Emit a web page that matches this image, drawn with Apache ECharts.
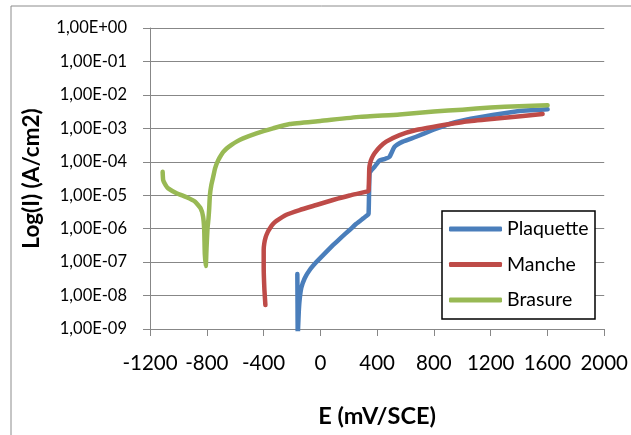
<!DOCTYPE html>
<html>
<head>
<meta charset="utf-8">
<script src="https://cdn.jsdelivr.net/npm/echarts@6/dist/echarts.min.js"></script>
<style>
html,body{margin:0;padding:0;background:#fff;}
#chart{width:631px;height:435px;}
</style>
</head>
<body>
<div id="chart"></div>
<script>
// ---- data (E in mV/SCE, I in A/cm2) ----
const seriesNames = ['Plaquette', 'Manche', 'Brasure'];

const plaquetteE = [-162, -161, -159, -156, -152, -146, -134, -110, -75, -28, 30, 89, 148, 206, 253, 300, 335, 340, 343, 347, 360, 382, 417, 450, 487, 523, 581, 675, 792, 909, 1027, 1214, 1378, 1601];
const plaquetteI = [4.4e-8, 1.0e-8, 6.3e-10, 6.3e-10, 3.2e-9, 7.4e-9, 1.7e-8, 3.3e-8, 5.8e-8, 1.0e-7, 1.8e-7, 3.2e-7, 5.5e-7, 9.1e-7, 1.4e-6, 2.0e-6, 2.6e-6, 2.8e-6, 1.0e-5, 4.5e-5, 5.6e-5, 7.1e-5, 1.1e-4, 1.2e-4, 1.4e-4, 2.8e-4, 4.0e-4, 5.6e-4, 8.9e-4, 1.35e-3, 1.8e-3, 2.5e-3, 3.2e-3, 3.7e-3];

const mancheE = [-387, -394, -399, -399, -395, -385, -370, -357, -335, -309, -239, -146, -28, 89, 206, 335, 340, 343, 345, 350, 362, 382, 420, 464, 558, 675, 792, 1027, 1261, 1566];
const mancheI = [5.2e-9, 1.5e-8, 7.2e-8, 2.3e-7, 3.6e-7, 5.6e-7, 8.0e-7, 1.0e-6, 1.35e-6, 1.7e-6, 2.6e-6, 3.6e-6, 5.1e-6, 7.2e-6, 9.8e-6, 1.3e-5, 1.4e-5, 3.2e-5, 6.3e-5, 8.9e-5, 1.26e-4, 1.8e-4, 2.8e-4, 4.0e-4, 6.3e-4, 8.9e-4, 1.1e-3, 1.6e-3, 2.0e-3, 2.7e-3];

const brasureE = [-1111, -1107, -1090, -1072, -1013, -942, -884, -844, -826, -818, -814, -807, -802, -795, -788, -783, -778, -768, -755, -741, -720, -700, -685, -660, -626, -590, -544, -450, -333, -216, 0, 276, 558, 800, 1000, 1200, 1400, 1601];
const brasureI = [5.0e-5, 2.8e-5, 2.0e-5, 1.6e-5, 1.15e-5, 8.7e-6, 6.5e-6, 4.1e-6, 2.3e-6, 9.1e-7, 1.8e-7, 7.6e-8, 2.5e-7, 1.0e-6, 2.0e-6, 4.0e-6, 1.0e-5, 2.0e-5, 3.5e-5, 6.5e-5, 1.1e-4, 1.55e-4, 1.95e-4, 2.5e-4, 3.2e-4, 4.0e-4, 5.0e-4, 7.1e-4, 1.0e-3, 1.35e-3, 1.66e-3, 2.2e-3, 2.6e-3, 3.2e-3, 3.6e-3, 4.2e-3, 4.6e-3, 4.9e-3];

const yTickLabels = ['1,00E-09', '1,00E-08', '1,00E-07', '1,00E-06', '1,00E-05', '1,00E-04', '1,00E-03', '1,00E-02', '1,00E-01', '1,00E+00'];
const xTickLabels = ['-1200', '-800', '-400', '0', '400', '800', '1200', '1600', '2000'];

const xTitle = 'E (mV/SCE)';
const yTitle = 'Log(I) (A/cm2)';

// ---- build ----
function pairs(xs, ys) { return xs.map((x, i) => [x, ys[i]]); }
const colors = ['#4A7EBB', '#BE4B48', '#98B954'];
const dataSets = [pairs(plaquetteE, plaquetteI), pairs(mancheE, mancheI), pairs(brasureE, brasureI)];
const gridColor = '#878787';
const font = 'Lato, "Open Sans", sans-serif';

const chart = echarts.init(document.getElementById('chart'), null, {renderer: 'canvas'});
chart.setOption({
  animation: false,
  backgroundColor: '#ffffff',
  color: colors,
  grid: {left: 150, top: 28, right: 26, bottom: 106, containLabel: false},
  xAxis: {
    type: 'value', min: -1200, max: 2000, interval: 400,
    axisLine: {show: true, onZero: false, lineStyle: {color: gridColor, width: 1}},
    axisTick: {show: true, length: 7, lineStyle: {color: gridColor}},
    splitLine: {show: false},
    axisLabel: {
      margin: 24, color: '#000', fontFamily: font, fontSize: 20.5,
      formatter: v => { const i = Math.round((v + 1200) / 400); return xTickLabels[i] !== undefined ? xTickLabels[i] : ''; }
    },
    name: xTitle, nameLocation: 'middle', nameGap: 75,
    nameTextStyle: {color: '#000', fontFamily: font, fontWeight: 'bold', fontSize: 23.5}
  },
  yAxis: {
    type: 'log', logBase: 10, min: 1e-9, max: 1, splitNumber: 9,
    axisLine: {show: true, onZero: false, lineStyle: {color: gridColor, width: 1}},
    axisTick: {show: true, length: 7, lineStyle: {color: gridColor}},
    splitLine: {show: true, lineStyle: {color: gridColor, width: 1}},
    minorTick: {show: false},
    axisLabel: {
      margin: 23, color: '#000', fontFamily: font, fontSize: 16.5,
      formatter: v => { const e = Math.round(Math.log10(v)); const s = yTickLabels[e + 9]; return s !== undefined ? s : ''; }
    },
    name: yTitle, nameLocation: 'middle', nameGap: 107, nameRotate: 90,
    nameTextStyle: {color: '#000', fontFamily: font, fontWeight: 'bold', fontSize: 22.5}
  },
  legend: {
    data: seriesNames,
    orient: 'vertical', left: 442, top: 211, z: 20,
    padding: [8, 5, 9, 7],
    itemWidth: 53, itemHeight: 5, itemGap: 15.5,
    icon: 'roundRect',
    textStyle: {color: '#000', fontFamily: font, fontSize: 19.5, lineHeight: 20}
  },
  graphic: [
    {type: 'rect', z: -10, silent: true, shape: {x: 11, y: 6, width: 800, height: 800}, style: {fill: 'none', stroke: '#8c8c8c', lineWidth: 1}},
    {type: 'rect', z: 15, silent: true, shape: {x: 442, y: 211, width: 153, height: 108}, style: {fill: '#fff', stroke: '#000', lineWidth: 1.5}}
  ],
  series: seriesNames.map((n, i) => ({
    name: n, type: 'line', data: dataSets[i], symbol: 'none', showSymbol: false,
    clip: true, smooth: 0.15,
    lineStyle: {width: 4.5, color: colors[i], cap: 'round', join: 'round'},
    itemStyle: {color: colors[i]},
    z: 2 + i
  }))
});
</script>
</body>
</html>
